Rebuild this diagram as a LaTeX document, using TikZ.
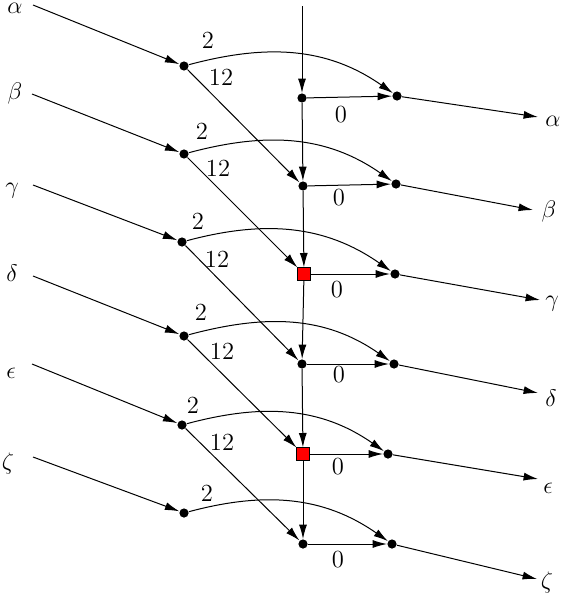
\documentclass[tikz,border=0pt]{standalone}
\usetikzlibrary{arrows.meta}
\begin{document}
\begin{tikzpicture}[x=0.5pt,y=-0.5pt,
  dot/.style={circle,fill=black,inner sep=0pt,minimum size=4.6pt},
  redsq/.style={rectangle,fill=red,draw=black,line width=0.3pt,inner sep=0pt,minimum size=6.3pt},
  lbl/.style={inner sep=0pt,font=\fontsize{12.3}{14}\selectfont},
  arr/.style={-{Latex[length=7.2pt,width=4pt]},line width=0.5pt},
  bendarr/.style={arr,out=15,in=145}]
\useasboundingbox (0,0) rectangle (562,594);
% left nodes
\node[dot] (A1) at (184,66) {};
\node[dot] (A2) at (184,154) {};
\node[dot] (A3) at (182,242) {};
\node[dot] (A4) at (184,336) {};
\node[dot] (A5) at (182,425) {};
\node[dot] (A6) at (184,513) {};
% middle nodes
\node[dot] (M1) at (302,98) {};
\node[dot] (M2) at (303,186) {};
\node[redsq] (M3) at (304,274) {};
\node[dot] (M4) at (302,364) {};
\node[redsq] (M5) at (303,454) {};
\node[dot] (M6) at (303,544) {};
% right nodes
\node[dot] (R1) at (397,96) {};
\node[dot] (R2) at (396,184) {};
\node[dot] (R3) at (395,274) {};
\node[dot] (R4) at (394,364) {};
\node[dot] (R5) at (388,454) {};
\node[dot] (R6) at (392,544) {};
% input starts and output tips
\coordinate (s1) at (33,5);
\coordinate (s2) at (32,94);
\coordinate (s3) at (33,185);
\coordinate (s4) at (33,276);
\coordinate (s5) at (32,364);
\coordinate (s6) at (33,457);
\coordinate (top) at (302,6);
\coordinate (t1) at (538,117);
\coordinate (t2) at (533,210);
\coordinate (t3) at (540,300);
\coordinate (t4) at (538,393);
\coordinate (t5) at (538,479);
\coordinate (t6) at (537,579);
% input labels
\node[lbl] (in1) at (15,8) {$\alpha$};
\node[lbl] (in2) at (15,93) {$\beta$};
\node[lbl] (in3) at (12,191) {$\gamma$};
\node[lbl] (in4) at (12,273) {$\delta$};
\node[lbl] (in5) at (11,373) {$\epsilon$};
\node[lbl] (in6) at (8,463) {$\zeta$};
% output labels
\node[lbl] (out1) at (553,121) {$\alpha$};
\node[lbl] (out2) at (549,211) {$\beta$};
\node[lbl] (out3) at (552,304) {$\gamma$};
\node[lbl] (out4) at (551,398) {$\delta$};
\node[lbl] (out5) at (548,488) {$\epsilon$};
\node[lbl] (out6) at (547,582) {$\zeta$};
% edge labels
\node[lbl] (w1) at (208,40) {2};
\node[lbl] (w2) at (202,131) {2};
\node[lbl] (w3) at (198,221) {2};
\node[lbl] (w4) at (201,312) {2};
\node[lbl] (w5) at (193,405) {2};
\node[lbl] (w6) at (207,493) {2};
\node[lbl] (d1) at (221,77) {12};
\node[lbl] (d2) at (218,168) {12};
\node[lbl] (d3) at (217,259) {12};
\node[lbl] (d4) at (222,351) {12};
\node[lbl] (d5) at (222,442) {12};
\node[lbl] (z1) at (341,115) {0};
\node[lbl] (z2) at (339,198) {0};
\node[lbl] (z3) at (337,290) {0};
\node[lbl] (z4) at (339,375) {0};
\node[lbl] (z5) at (338,467) {0};
\node[lbl] (z6) at (338,560) {0};
% rows
\foreach \i in {1,...,6} {
  \draw[arr] (s\i) -- (A\i);
  \draw[bendarr] (A\i) to (R\i);
  \draw[arr] (M\i) -- (R\i);
  \draw[arr] (R\i) -- (t\i);
}
% diagonals
\draw[arr] (A1) -- (M2);
\draw[arr] (A2) -- (M3);
\draw[arr] (A3) -- (M4);
\draw[arr] (A4) -- (M5);
\draw[arr] (A5) -- (M6);
% vertical chain
\draw[arr] (top) -- (M1);
\draw[arr] (M1) -- (M2);
\draw[arr] (M2) -- (M3);
\draw[arr] (M3) -- (M4);
\draw[arr] (M4) -- (M5);
\draw[arr] (M5) -- (M6);
\end{tikzpicture}
\end{document}
